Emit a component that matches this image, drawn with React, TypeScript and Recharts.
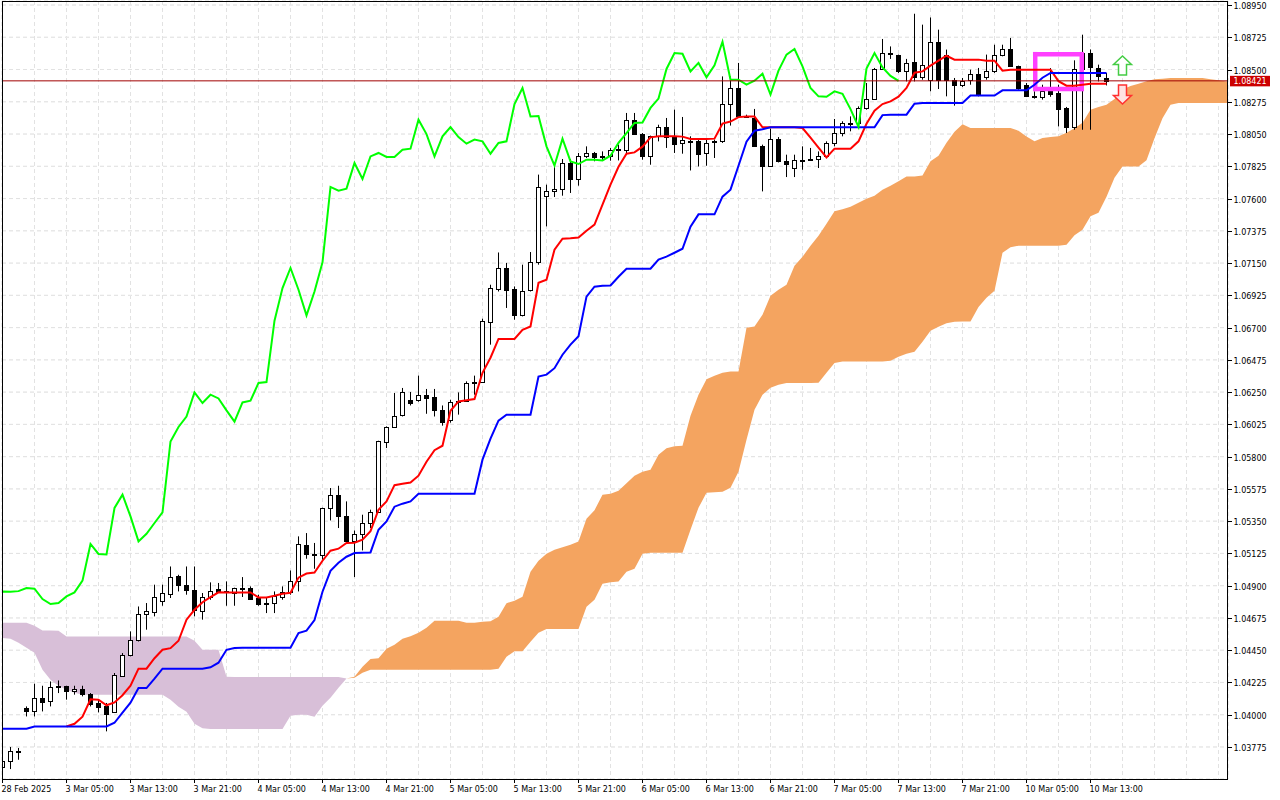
import React from 'react'
import {
  ComposedChart,
  XAxis,
  YAxis,
  CartesianGrid,
  Area,
  Bar,
  Line,
  ReferenceLine,
  ReferenceDot,
} from 'recharts'

// EURUSD H1, Ichimoku (9, 26, 52)
// bar 0 = 28 Feb 2025 21:00, one bar per hour, last bar = 138
const LINE_START = -1 // indicator arrays start one bar before the first candle
const LAST_BAR = 154 // cloud runs 26 bars past the last candle
const CHIKOU_SHIFT = 26
const LABEL_STEP = 8
const GRID_STEP = 4

const opens = [
  1.03637, 1.03679, 1.03742, 1.04047, 1.04023, 1.04116, 1.04093, 1.04202, 1.04197, 1.04167,
  1.04179, 1.04144, 1.04082, 1.04058, 1.04016, 1.04267, 1.04414, 1.04518, 1.04704, 1.04714,
  1.0479, 1.04842, 1.04965, 1.04907, 1.04872, 1.0472, 1.04821, 1.04877, 1.04858, 1.04849,
  1.04884, 1.04881, 1.04811, 1.04775, 1.04779, 1.04821, 1.04856, 1.0493, 1.05186, 1.05121,
  1.05111, 1.05442, 1.05535, 1.05388, 1.05209, 1.05262, 1.05337, 1.05411, 1.05901, 1.06007,
  1.06088, 1.06197, 1.06197, 1.06232, 1.06213, 1.06127, 1.06058, 1.06178, 1.0619, 1.06316,
  1.06318, 1.06739, 1.06971, 1.07116, 1.06969, 1.06785, 1.0696, 1.07155, 1.0762, 1.07653,
  1.07667, 1.07848, 1.07736, 1.07899, 1.07918, 1.07894, 1.07894, 1.07936, 1.07941, 1.0815,
  1.0805, 1.07894, 1.08034, 1.08099, 1.08029, 1.07988, 1.08003, 1.07999, 1.07918, 1.07995,
  1.07999, 1.08259, 1.08371, 1.08173, 1.08162, 1.07969, 1.0783, 1.08018, 1.07864, 1.07813,
  1.07866, 1.07876, 1.07876, 1.07899, 1.07988, 1.08057, 1.08127, 1.08127, 1.08232, 1.08297,
  1.08504, 1.08615, 1.08604, 1.08492, 1.0855, 1.08448, 1.08429, 1.08694, 1.08604, 1.08429,
  1.08394, 1.08424, 1.08471, 1.0845, 1.08487, 1.08604, 1.08643, 1.08522, 1.08389, 1.08313,
  1.08308, 1.08348, 1.08336, 1.08232, 1.08099, 1.08506, 1.08615, 1.0851, 1.08441,
]
const highs = [
  1.037, 1.03775, 1.03768, 1.04058, 1.04216, 1.04202, 1.04232, 1.04239, 1.04202, 1.04202,
  1.04202, 1.04151, 1.04105, 1.04082, 1.04291, 1.0443, 1.04581, 1.04755, 1.04779, 1.04907,
  1.04907, 1.05034, 1.04976, 1.05034, 1.05034, 1.04849, 1.04923, 1.04919, 1.0493, 1.04886,
  1.0496, 1.04895, 1.04837, 1.04814, 1.0486, 1.04895, 1.05006, 1.05244, 1.05267, 1.05198,
  1.05444, 1.05581, 1.05597, 1.05488, 1.05285, 1.05395, 1.0543, 1.05911, 1.06011, 1.06244,
  1.06279, 1.06251, 1.06365, 1.06272, 1.06272, 1.06157, 1.06197, 1.06248, 1.06325, 1.06365,
  1.06762, 1.06999, 1.07224, 1.07151, 1.06987, 1.07139, 1.07227, 1.07767, 1.07697, 1.07836,
  1.07876, 1.07876, 1.07918, 1.07964, 1.07925, 1.07929, 1.07953, 1.07976, 1.08197, 1.08197,
  1.08057, 1.08039, 1.08115, 1.08162, 1.0822, 1.08169, 1.08034, 1.08011, 1.08011, 1.08011,
  1.08452, 1.08452, 1.08546, 1.08185, 1.08225, 1.07976, 1.08088, 1.08029, 1.07906, 1.07906,
  1.07964, 1.07953, 1.07929, 1.07999, 1.08155, 1.08139, 1.08173, 1.08243, 1.08406, 1.08511,
  1.08713, 1.08661, 1.08604, 1.08574, 1.08889, 1.08813, 1.08863, 1.08778, 1.08639, 1.08441,
  1.08441, 1.08499, 1.08511, 1.08604, 1.08673, 1.08673, 1.0872, 1.08527, 1.08406, 1.08348,
  1.08394, 1.0851, 1.08394, 1.08239, 1.08564, 1.08743, 1.0864, 1.08534, 1.08476,
]
const lows = [
  1.0363, 1.03621, 1.03686, 1.03988, 1.03988, 1.04023, 1.04058, 1.04151, 1.04105, 1.0414,
  1.04128, 1.04058, 1.04016, 1.03884, 1.04012, 1.04263, 1.04407, 1.04511, 1.04593, 1.04686,
  1.0476, 1.04814, 1.0486, 1.04837, 1.04686, 1.04663, 1.04802, 1.04849, 1.0476, 1.0476,
  1.04821, 1.04802, 1.0476, 1.04709, 1.04709, 1.04802, 1.04837, 1.0486, 1.05088, 1.05018,
  1.05081, 1.05355, 1.05302, 1.05198, 1.0496, 1.05146, 1.05302, 1.05407, 1.0586, 1.06,
  1.0608, 1.06157, 1.06183, 1.06099, 1.0608, 1.06016, 1.06037, 1.06093, 1.06186, 1.06232,
  1.06314, 1.06581, 1.06952, 1.06837, 1.06755, 1.06778, 1.06952, 1.07139, 1.07406, 1.07611,
  1.0762, 1.07639, 1.0769, 1.07883, 1.0786, 1.07864, 1.07864, 1.07866, 1.07913, 1.08046,
  1.07871, 1.07836, 1.07999, 1.07953, 1.07918, 1.07913, 1.07796, 1.07824, 1.07829, 1.07883,
  1.07988, 1.08109, 1.08162, 1.08165, 1.0796, 1.0765, 1.07825, 1.07852, 1.0775, 1.0775,
  1.07801, 1.07864, 1.07813, 1.07894, 1.07964, 1.08034, 1.08069, 1.08092, 1.0822, 1.0829,
  1.08499, 1.08574, 1.08476, 1.08417, 1.08417, 1.08429, 1.08348, 1.08364, 1.08313, 1.08248,
  1.08378, 1.08394, 1.08313, 1.08429, 1.08476, 1.08592, 1.08522, 1.08359, 1.08308, 1.08297,
  1.0829, 1.0831, 1.08103, 1.08057, 1.0808, 1.0808, 1.0808, 1.08417, 1.08389,
]
const closes = [
  1.03679, 1.03744, 1.03746, 1.04023, 1.04116, 1.04086, 1.04193, 1.0419, 1.04167, 1.04181,
  1.04146, 1.04077, 1.04054, 1.04007, 1.04279, 1.04414, 1.04523, 1.04704, 1.0472, 1.04821,
  1.04849, 1.0496, 1.04907, 1.04867, 1.04732, 1.04821, 1.0486, 1.04858, 1.04862, 1.04884,
  1.04879, 1.04807, 1.04772, 1.04779, 1.04825, 1.04853, 1.04935, 1.05191, 1.05121, 1.05118,
  1.05442, 1.05535, 1.05383, 1.05209, 1.05262, 1.05337, 1.05411, 1.05906, 1.06007, 1.0608,
  1.06248, 1.06174, 1.06232, 1.06206, 1.06123, 1.06044, 1.06178, 1.0619, 1.06314, 1.0632,
  1.06748, 1.06976, 1.07116, 1.06964, 1.06785, 1.06952, 1.07155, 1.07681, 1.07655, 1.07669,
  1.07848, 1.07736, 1.07894, 1.07918, 1.0789, 1.0789, 1.07941, 1.07948, 1.0815, 1.0805,
  1.07894, 1.08034, 1.08099, 1.08029, 1.07983, 1.08011, 1.07999, 1.07913, 1.07988, 1.07999,
  1.08259, 1.08371, 1.08173, 1.08176, 1.07964, 1.0783, 1.08018, 1.07859, 1.07841, 1.07871,
  1.0787, 1.07866, 1.07899, 1.07988, 1.08057, 1.08127, 1.0813, 1.08232, 1.08297, 1.08504,
  1.08615, 1.0861, 1.08487, 1.08546, 1.08446, 1.08529, 1.08694, 1.08429, 1.08429, 1.08394,
  1.08422, 1.08471, 1.08325, 1.08492, 1.08604, 1.08643, 1.08522, 1.08371, 1.08313, 1.0831,
  1.08348, 1.08331, 1.08224, 1.08099, 1.08506, 1.08615, 1.08515, 1.08455, 1.08421,
]

// Tenkan-sen, bars -1..138
const tenkan = [
  null,
  null, null, null, null, null, null, null, null, 1.03918, 1.03937,
  1.03986, 1.04108, 1.04105, 1.04066, 1.04086, 1.04136, 1.04202, 1.04321, 1.04321, 1.04394,
  1.04453, 1.04464, 1.04516, 1.04663, 1.04732, 1.04785, 1.0482, 1.04854, 1.04853, 1.04853,
  1.04853, 1.04853, 1.04818, 1.04818, 1.0483, 1.04844, 1.04851, 1.04956, 1.04985, 1.04992,
  1.05074, 1.05144, 1.05158, 1.05198, 1.052, 1.05221, 1.0528, 1.0543, 1.05488, 1.05601,
  1.05611, 1.0562, 1.05667, 1.05765, 1.05845, 1.05876, 1.0612, 1.06185, 1.06194, 1.06202,
  1.06385, 1.0649, 1.06621, 1.06621, 1.06621, 1.06685, 1.06708, 1.07013, 1.07034, 1.07243,
  1.0732, 1.07323, 1.07329, 1.07376, 1.07418, 1.07557, 1.07697, 1.07822, 1.07913, 1.07922,
  1.07962, 1.08027, 1.08034, 1.08034, 1.08034, 1.08032, 1.08016, 1.08016, 1.08016, 1.08018,
  1.08123, 1.08137, 1.08168, 1.08173, 1.08173, 1.08097, 1.08097, 1.08097, 1.08097, 1.08097,
  1.08092, 1.08025, 1.07955, 1.07887, 1.07948, 1.07948, 1.07948, 1.07999, 1.08122, 1.08213,
  1.08259, 1.08278, 1.08311, 1.08371, 1.08478, 1.08487, 1.08527, 1.08562, 1.08596, 1.08569,
  1.08569, 1.08569, 1.08569, 1.08562, 1.08562, 1.08492, 1.08499, 1.08499, 1.08499, 1.08499,
  1.08499, 1.08499, 1.08419, 1.08387, 1.08387, 1.08394, 1.08401, 1.08401, 1.08401,
]

// Kijun-sen, bars -1..138
const kijun = [
  1.03902,
  1.03902, 1.03902, 1.03902, 1.03902, 1.03918, 1.03918, 1.03918, 1.03918, 1.03918, 1.03918,
  1.03918, 1.03918, 1.03918, 1.03918, 1.03944, 1.04014, 1.04084, 1.04186, 1.04186, 1.04251,
  1.04321, 1.04321, 1.04321, 1.04321, 1.04321, 1.04321, 1.04331, 1.04363, 1.04453, 1.04465,
  1.04467, 1.04467, 1.04467, 1.04467, 1.04467, 1.04467, 1.04467, 1.0457, 1.04586, 1.0466,
  1.04858, 1.05004, 1.0506, 1.05102, 1.05128, 1.0513, 1.05132, 1.0529, 1.05348, 1.05451,
  1.05472, 1.05488, 1.05541, 1.05541, 1.05541, 1.05541, 1.05541, 1.05541, 1.05541, 1.05541,
  1.05779, 1.05925, 1.06051, 1.06093, 1.06093, 1.06093, 1.06093, 1.06358, 1.06372, 1.06417,
  1.06511, 1.06581, 1.0664, 1.06916, 1.06985, 1.06992, 1.06994, 1.07055, 1.07111, 1.07111,
  1.07111, 1.07111, 1.07174, 1.07195, 1.07222, 1.0725, 1.07404, 1.0749, 1.0749, 1.0749,
  1.07613, 1.07662, 1.07829, 1.07997, 1.08073, 1.08084, 1.08097, 1.08097, 1.08097, 1.08097,
  1.08097, 1.08097, 1.08097, 1.08097, 1.08097, 1.08097, 1.08097, 1.08097, 1.08097, 1.08097,
  1.08182, 1.08185, 1.08185, 1.08185, 1.08262, 1.08267, 1.08267, 1.08267, 1.08267, 1.08267,
  1.08267, 1.08318, 1.08318, 1.08318, 1.08318, 1.08355, 1.08355, 1.08355, 1.08355, 1.08394,
  1.08443, 1.08476, 1.08476, 1.08476, 1.08476, 1.08476, 1.08476, 1.08476, 1.08476,
]

// Senkou span A, bars -1..154
const senkouA = [
  1.04537,
  1.04535, 1.0453, 1.04502, 1.04467, 1.04432, 1.04314, 1.04244, 1.04202, 1.04174, 1.04153,
  1.0414, 1.0414, 1.0414, 1.0414, 1.0414, 1.0414, 1.0414, 1.0414, 1.0414, 1.0414,
  1.0414, 1.04105, 1.04056, 1.04021, 1.03937, 1.03906, 1.039, 1.039, 1.039, 1.039,
  1.039, 1.039, 1.039, 1.039, 1.039, 1.039, 1.03993, 1.04, 1.04, 1.03986,
  1.04063, 1.04119, 1.04188, 1.04252, 1.04265, 1.04335, 1.04389, 1.04394, 1.0446, 1.04488,
  1.0453, 1.04548, 1.04572, 1.04607, 1.04656, 1.04656, 1.04656, 1.04656, 1.04642, 1.04642,
  1.04649, 1.04652, 1.04684, 1.04778, 1.04795, 1.04823, 1.04997, 1.05074, 1.05123, 1.05151,
  1.05168, 1.05186, 1.05209, 1.05367, 1.05426, 1.05535, 1.05542, 1.05562, 1.05615, 1.05667,
  1.05695, 1.05709, 1.05814, 1.05859, 1.05873, 1.05876, 1.06086, 1.06232, 1.0634, 1.06365,
  1.06385, 1.06394, 1.06394, 1.06699, 1.06708, 1.0679, 1.06922, 1.06964, 1.06999, 1.07132,
  1.07194, 1.07271, 1.07341, 1.07425, 1.07511, 1.07526, 1.07543, 1.07571, 1.07599, 1.0762,
  1.07662, 1.0769, 1.07721, 1.07753, 1.07753, 1.0776, 1.07861, 1.07899, 1.0799, 1.08066,
  1.08119, 1.08092, 1.08092, 1.08092, 1.08092, 1.08092, 1.08092, 1.08073, 1.08032, 1.07999,
  1.08023, 1.08029, 1.08034, 1.08059, 1.08091, 1.08129, 1.0822, 1.08239, 1.08255, 1.08295,
  1.0836, 1.08385, 1.084, 1.08418, 1.08433, 1.08436, 1.08441, 1.08441, 1.08441, 1.08441,
  1.08441, 1.08433, 1.08426, 1.08417, 1.08415,
]

// Senkou span B, bars -1..154
const senkouB = [
  1.04642,
  1.04642, 1.04642, 1.04642, 1.04642, 1.04621, 1.04588, 1.04588, 1.04586, 1.04546, 1.04546,
  1.04546, 1.04546, 1.04546, 1.04546, 1.04546, 1.04546, 1.04546, 1.04546, 1.04546, 1.04546,
  1.04546, 1.04546, 1.04546, 1.04546, 1.04516, 1.04453, 1.04453, 1.04453, 1.04265, 1.04263,
  1.04263, 1.04263, 1.04263, 1.04263, 1.04263, 1.04263, 1.04263, 1.04263, 1.04263, 1.04263,
  1.04263, 1.04263, 1.04263, 1.04252, 1.04258, 1.04293, 1.04314, 1.04314, 1.04314, 1.04314,
  1.04314, 1.04314, 1.04314, 1.04314, 1.04314, 1.04314, 1.04314, 1.04314, 1.04314, 1.04314,
  1.04314, 1.04314, 1.04321, 1.04405, 1.04442, 1.04442, 1.04509, 1.04572, 1.04598, 1.04598,
  1.04598, 1.04598, 1.04598, 1.04753, 1.04802, 1.04914, 1.04924, 1.0493, 1.04997, 1.05018,
  1.05123, 1.0513, 1.0513, 1.0513, 1.0513, 1.0513, 1.0529, 1.05444, 1.05548, 1.05551,
  1.05555, 1.05583, 1.05695, 1.05918, 1.06127, 1.06232, 1.06281, 1.06302, 1.06314, 1.06314,
  1.06314, 1.06314, 1.06316, 1.06385, 1.06453, 1.06464, 1.06464, 1.06464, 1.06464, 1.06464,
  1.06464, 1.06469, 1.06497, 1.06518, 1.06532, 1.06602, 1.06678, 1.06706, 1.06731, 1.06741,
  1.06743, 1.06743, 1.06843, 1.06909, 1.06957, 1.07222, 1.07261, 1.07271, 1.07271, 1.07271,
  1.07271, 1.07271, 1.07271, 1.07278, 1.07344, 1.07383, 1.07477, 1.07501, 1.07613, 1.07746,
  1.07824, 1.07824, 1.07824, 1.07867, 1.0802, 1.0816, 1.08255, 1.08267, 1.08267, 1.08267,
  1.08267, 1.08267, 1.08267, 1.08267, 1.08267,
]

const timeLabels = [
  '28 Feb 2025', '3 Mar 05:00', '3 Mar 13:00', '3 Mar 21:00', '4 Mar 05:00', '4 Mar 13:00',
  '4 Mar 21:00', '5 Mar 05:00', '5 Mar 13:00', '5 Mar 21:00', '6 Mar 05:00', '6 Mar 13:00',
  '6 Mar 21:00', '7 Mar 05:00', '7 Mar 13:00', '7 Mar 21:00', '10 Mar 05:00', '10 Mar 13:00',
]

const priceTicks = [
  1.03775, 1.04, 1.04225, 1.0445, 1.04675, 1.049, 1.05125, 1.0535, 1.05575, 1.058, 1.06025, 1.0625,
  1.06475, 1.067, 1.06925, 1.0715, 1.07375, 1.076, 1.07825, 1.0805, 1.08275, 1.085, 1.08725, 1.0895,
]

const LAST_PRICE = 1.08421
const BUY_ARROW = { bar: 140, price: 1.08528 }
const SELL_ARROW = { bar: 140, price: 1.08326 }
const HIGHLIGHT = { x1: 129.09, x2: 134.91, y1: 1.08365, y2: 1.08607 }
const HIGHLIGHT_SIDES = [
  [{ x: HIGHLIGHT.x1, y: HIGHLIGHT.y2 }, { x: HIGHLIGHT.x2, y: HIGHLIGHT.y2 }],
  [{ x: HIGHLIGHT.x2, y: HIGHLIGHT.y2 }, { x: HIGHLIGHT.x2, y: HIGHLIGHT.y1 }],
  [{ x: HIGHLIGHT.x2, y: HIGHLIGHT.y1 }, { x: HIGHLIGHT.x1, y: HIGHLIGHT.y1 }],
  [{ x: HIGHLIGHT.x1, y: HIGHLIGHT.y1 }, { x: HIGHLIGHT.x1, y: HIGHLIGHT.y2 }],
]

const X_DOMAIN = [-0.0625, 153.1875]
const Y_DOMAIN = [1.035517, 1.089779]
const FONT = 'DejaVu Sans'

const rows = []
for (let i = LINE_START; i <= LAST_BAR; i++) {
  const k = i - LINE_START
  const a = senkouA[k]
  const b = senkouB[k]
  const hasCandle = i >= 0 && i < closes.length
  const ch = i + CHIKOU_SHIFT
  rows.push({
    i,
    range: hasCandle ? [lows[i], highs[i]] : null,
    open: hasCandle ? opens[i] : null,
    high: hasCandle ? highs[i] : null,
    low: hasCandle ? lows[i] : null,
    close: hasCandle ? closes[i] : null,
    tenkan: k < tenkan.length ? tenkan[k] : null,
    kijun: k < kijun.length ? kijun[k] : null,
    chikou: ch >= 0 && ch < closes.length ? closes[ch] : null,
    purple: b >= a ? [a, b] : null,
    orange: a >= b ? [b, a] : null,
  })
}

const gridTicks = []
for (let t = 0; t <= X_DOMAIN[1]; t += GRID_STEP) gridTicks.push(t)

const Candle = (props: any) => {
  const { x, y, width, height, payload } = props
  if (!payload || payload.high == null) return null
  const { open, high, low, close } = payload
  const cx = Math.floor(x + width / 2) + 0.5
  const k = high > low ? height / (high - low) : 0
  const py = (v: number) => y + (high - v) * k
  const top = Math.round(py(Math.max(open, close)))
  const bot = Math.round(py(Math.min(open, close)))
  const h = Math.max(bot - top, 1)
  return (
    <g>
      <line x1={cx} x2={cx} y1={y} y2={y + height} stroke="#000" strokeWidth={1} />
      {close >= open ? (
        <rect x={cx - 2} y={top + 0.5} width={4} height={h} fill="#fff" stroke="#000" strokeWidth={1} />
      ) : (
        <rect x={cx - 2.5} y={top} width={5} height={h + 1} fill="#000" />
      )}
    </g>
  )
}

const TimeTick = (props: any) => {
  const { x, y, payload } = props
  const v = payload.value
  if (v % LABEL_STEP !== 0) return null
  const text = timeLabels[v / LABEL_STEP]
  if (!text) return null
  return (
    <g>
      <line x1={x} x2={x} y1={y} y2={y + 4} stroke="#000" />
      <text x={x - 1} y={y + 12.5} fontSize={8} fontFamily={FONT} fill="#000">
        {text}
      </text>
    </g>
  )
}

const PriceTick = (props: any) => {
  const { x, y, payload } = props
  const yy = Math.round(y) + 0.5
  return (
    <g>
      <line x1={x} x2={x + 4} y1={yy} y2={yy} stroke="#000" />
      <text x={x + 5.5} y={yy + 3} fontSize={8} fontFamily={FONT} fill="#000">
        {payload.value.toFixed(5)}
      </text>
    </g>
  )
}

const PriceTag = (props: any) => {
  const vb = props.viewBox
  const x = vb.x + vb.width
  const y = vb.y
  return (
    <g>
      <rect x={x + 2} y={y - 5} width={40} height={10.5} fill="#cc0000" />
      <text x={x + 5.5} y={y + 3} fontSize={8} fontFamily={FONT} fill="#fff">
        {LAST_PRICE.toFixed(5)}
      </text>
    </g>
  )
}

const UpArrow = (props: any) => {
  const { cx, cy } = props
  const d = `M${cx},${cy - 9.5} L${cx + 9},${cy - 1} L${cx + 4},${cy - 1} L${cx + 4},${cy + 9.5} L${cx - 4},${cy + 9.5} L${cx - 4},${cy - 1} L${cx - 9},${cy - 1} Z`
  return <path d={d} fill="#fff" stroke="#44cc44" strokeWidth={1.5} />
}

const DownArrow = (props: any) => {
  const { cx, cy } = props
  const d = `M${cx},${cy + 9.5} L${cx + 9},${cy + 1} L${cx + 4},${cy + 1} L${cx + 4},${cy - 9.5} L${cx - 4},${cy - 9.5} L${cx - 4},${cy + 1} L${cx - 9},${cy + 1} Z`
  return <path d={d} fill="#ffe2e2" stroke="#ff3030" strokeWidth={1.5} />
}

const IchimokuChart: React.FC = () => {
  return (
    <div style={{ position: 'absolute', left: 0, top: 0, width: 1280, height: 800, background: '#fff' }}>
      <ComposedChart width={1280} height={800} data={rows} margin={{ top: 1, right: 0, bottom: 0, left: 2 }}>
        <CartesianGrid stroke="#d6d6d6" strokeDasharray="4 3" />
        <XAxis
          dataKey="i"
          type="number"
          domain={X_DOMAIN}
          allowDataOverflow
          ticks={gridTicks}
          interval={0}
          tick={<TimeTick />}
          tickLine={false}
          tickSize={0}
          tickMargin={0}
          axisLine={false}
          height={21}
        />
        <YAxis
          orientation="right"
          type="number"
          domain={Y_DOMAIN}
          allowDataOverflow
          ticks={priceTicks}
          interval={0}
          tick={<PriceTick />}
          tickLine={false}
          tickSize={0}
          tickMargin={0}
          axisLine={false}
          width={52}
        />
        <Area dataKey="purple" type="linear" stroke="none" fill="#d8bfd8" fillOpacity={1} isAnimationActive={false} />
        <Area dataKey="orange" type="linear" stroke="none" fill="#f4a460" fillOpacity={1} isAnimationActive={false} />
        <CartesianGrid stroke="#ffffff" strokeOpacity={0.3} strokeDasharray="4 3" />
        <Bar dataKey="range" barSize={5} shape={(p: any) => <Candle {...p} />} isAnimationActive={false} />
        {HIGHLIGHT_SIDES.map((seg, n) => (
          <ReferenceLine key={n} segment={seg} stroke="#ff40ff" strokeWidth={4.5} strokeLinecap="square" />
        ))}
        <Line dataKey="tenkan" type="linear" stroke="#ff0000" strokeWidth={2} dot={false} activeDot={false} isAnimationActive={false} />
        <Line dataKey="kijun" type="linear" stroke="#0000ff" strokeWidth={2} dot={false} activeDot={false} isAnimationActive={false} />
        <Line dataKey="chikou" type="linear" stroke="#00ff00" strokeWidth={2} dot={false} activeDot={false} isAnimationActive={false} />
        <ReferenceLine y={LAST_PRICE} stroke="#a00000" strokeWidth={1} label={<PriceTag />} />
        <ReferenceDot x={BUY_ARROW.bar} y={BUY_ARROW.price} r={0} shape={(p: any) => <UpArrow {...p} />} />
        <ReferenceDot x={SELL_ARROW.bar} y={SELL_ARROW.price} r={0} shape={(p: any) => <DownArrow {...p} />} />
      </ComposedChart>
      <div
        style={{
          position: 'absolute',
          left: 2,
          top: 1,
          width: 1224,
          height: 777,
          border: '1px solid #000',
          pointerEvents: 'none',
        }}
      />
    </div>
  )
}

export default function App() {
  return <IchimokuChart />
}
